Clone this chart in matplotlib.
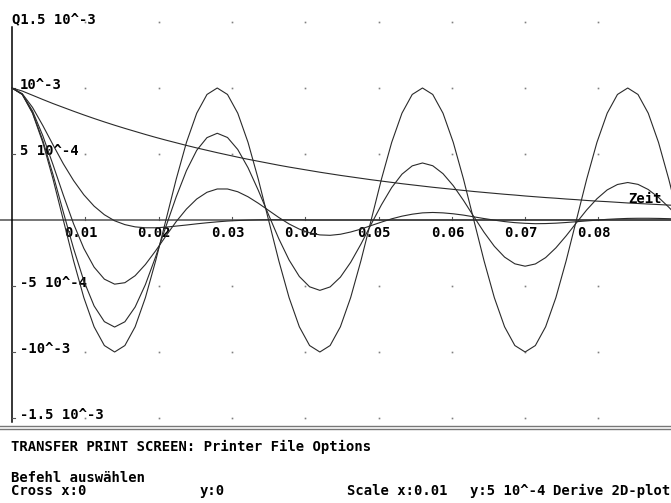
import matplotlib
matplotlib.use("Agg")
import matplotlib.pyplot as plt

W, H = 671, 503

# Zeit in s, Ladung Q in Einheiten von 10^-3
zeit = [0.0, 0.0014, 0.0028, 0.0042, 0.0056, 0.007, 0.0084, 0.0098, 0.0112, 0.0126,
        0.014, 0.0154, 0.0168, 0.0182, 0.0196, 0.021, 0.0224, 0.0238, 0.0252, 0.0266,
        0.028, 0.0294, 0.0308, 0.0322, 0.0336, 0.035, 0.0364, 0.0378, 0.0392, 0.0406,
        0.042, 0.0434, 0.0448, 0.0462, 0.0476, 0.049, 0.0504, 0.0518, 0.0532, 0.0546,
        0.056, 0.0574, 0.0588, 0.0602, 0.0616, 0.063, 0.0644, 0.0658, 0.0672, 0.0686,
        0.07, 0.0714, 0.0728, 0.0742, 0.0756, 0.077, 0.0784, 0.0798, 0.0812, 0.0826,
        0.084, 0.0854, 0.0868, 0.0882, 0.0896, 0.091]

q_ungedaempft = [1.000, 0.951, 0.809, 0.588, 0.309, 0.000, -0.309, -0.588, -0.809, -0.951,
                 -1.000, -0.951, -0.809, -0.588, -0.309, 0.000, 0.309, 0.588, 0.809, 0.951,
                 1.000, 0.951, 0.809, 0.588, 0.309, 0.000, -0.309, -0.588, -0.809, -0.951,
                 -1.000, -0.951, -0.809, -0.588, -0.309, 0.000, 0.309, 0.588, 0.809, 0.951,
                 1.000, 0.951, 0.809, 0.588, 0.309, 0.000, -0.309, -0.588, -0.809, -0.951,
                 -1.000, -0.951, -0.809, -0.588, -0.309, 0.000, 0.309, 0.588, 0.809, 0.951,
                 1.000, 0.951, 0.809, 0.588, 0.309, 0.000]

q_schwach = [1.000, 0.952, 0.813, 0.603, 0.343, 0.060, -0.216, -0.461, -0.651, -0.770,
             -0.811, -0.771, -0.659, -0.489, -0.278, -0.049, 0.175, 0.374, 0.528, 0.624,
             0.657, 0.625, 0.534, 0.396, 0.225, 0.040, -0.142, -0.303, -0.428, -0.506,
             -0.533, -0.507, -0.433, -0.321, -0.183, -0.032, 0.115, 0.246, 0.347, 0.410,
             0.432, 0.411, 0.351, 0.260, 0.148, 0.026, -0.093, -0.199, -0.281, -0.332,
             -0.350, -0.333, -0.285, -0.211, -0.120, -0.021, 0.076, 0.161, 0.228, 0.269,
             0.284, 0.270, 0.231, 0.171, 0.097, 0.017]

q_mittel = [1.000, 0.953, 0.826, 0.639, 0.418, 0.189, -0.029, -0.215, -0.357, -0.448,
            -0.486, -0.475, -0.422, -0.337, -0.233, -0.121, -0.012, 0.083, 0.159, 0.210,
            0.235, 0.235, 0.214, 0.176, 0.127, 0.073, 0.019, -0.030, -0.069, -0.097,
            -0.113, -0.116, -0.108, -0.091, -0.069, -0.042, -0.016, 0.009, 0.029, 0.044,
            0.054, 0.057, 0.054, 0.047, 0.037, 0.024, 0.011, -0.001, -0.012, -0.020,
            -0.025, -0.028, -0.027, -0.024, -0.019, -0.013, -0.007, -0.001, 0.005, 0.009,
            0.012, 0.013, 0.013, 0.012, 0.010, 0.007]

q_stark = [1.000, 0.957, 0.853, 0.716, 0.569, 0.426, 0.299, 0.191, 0.105, 0.040,
           -0.006, -0.035, -0.052, -0.059, -0.059, -0.054, -0.046, -0.038, -0.029, -0.021,
           -0.014, -0.008, -0.004, -0.001, 0.001, 0.002, 0.002, 0.001, 0.001, 0.000,
           0.000, 0.000, 0.000, 0.000, 0.000, 0.000, 0.000, 0.000, 0.000, 0.000,
           0.000, 0.000, 0.000, 0.000, 0.000, 0.000, 0.000, 0.000, 0.000, 0.000,
           0.000, 0.000, 0.000, 0.000, 0.000, 0.000, 0.000, 0.000, 0.000, 0.000,
           0.000, 0.000, 0.000, 0.000, 0.000, 0.000]

q_kriech = [1.000, 0.977, 0.945, 0.913, 0.882, 0.853, 0.824, 0.796, 0.769, 0.743,
            0.718, 0.694, 0.671, 0.648, 0.626, 0.605, 0.585, 0.565, 0.546, 0.528,
            0.510, 0.493, 0.476, 0.460, 0.445, 0.430, 0.415, 0.401, 0.388, 0.375,
            0.362, 0.350, 0.338, 0.327, 0.316, 0.305, 0.295, 0.285, 0.275, 0.266,
            0.257, 0.248, 0.240, 0.232, 0.224, 0.216, 0.209, 0.202, 0.195, 0.189,
            0.182, 0.176, 0.170, 0.165, 0.159, 0.154, 0.148, 0.143, 0.139, 0.134,
            0.129, 0.125, 0.121, 0.117, 0.113, 0.109]

x_ticks = [0.01, 0.02, 0.03, 0.04, 0.05, 0.06, 0.07, 0.08]
x_labels = ["0.01", "0.02", "0.03", "0.04", "0.05", "0.06", "0.07", "0.08"]
y_ticks = [1.5, 1.0, 0.5, -0.5, -1.0, -1.5]
y_labels = ["Q1.5 10^-3", "10^-3", "5 10^-4", "-5 10^-4", "-10^-3", "-1.5 10^-3"]

# pixel scale of the Derive window
px_x = 0.01 / 73.3
px_y = 1.0 / 132
x0_px, y0_px, bottom_px = 12, 220, 423

FONT = "DejaVu Sans Mono"
FS = 10

fig = plt.figure(figsize=(W / 100, H / 100), dpi=100)
fig.patch.set_facecolor("white")
ax = fig.add_axes([0, (H - bottom_px) / H, 1, bottom_px / H])
ax.set_xlim(-x0_px * px_x, (W - x0_px) * px_x)
ax.set_ylim(-(bottom_px - y0_px) * px_y, y0_px * px_y)
ax.axis("off")

# grid dots
for gx in x_ticks:
    for gy in y_ticks:
        ax.plot(gx, gy, "s", ms=1.2, color="#808080", mec="none", zorder=1)

# axes
ax.axhline(0, color="#6a6a6a", lw=1.3, zorder=2)
ax.plot([0, 0], [(y0_px - 27) * px_y, -(bottom_px - 1 - y0_px) * px_y],
        color="black", lw=1.1, zorder=2)
for gx in x_ticks:
    ax.plot([gx, gx], [0, 3 * px_y], color="#555555", lw=0.8, zorder=2)
for gy in y_ticks[1:]:
    ax.plot([0, 3 * px_x], [gy, gy], color="#555555", lw=0.8, zorder=2)

# labels
for gx, lab in zip(x_ticks, x_labels):
    ax.text(gx - 21 * px_x, -17 * px_y, lab, ha="left", va="baseline",
            family=FONT, weight="bold", fontsize=FS, zorder=1)
for gy, lab in zip(y_ticks, y_labels):
    xx = 0 if lab.startswith("Q") else 8 * px_x
    ax.text(xx, gy - 1 * px_y, lab, ha="left", va="baseline",
            family=FONT, weight="bold", fontsize=FS, zorder=1)
ax.text((628 - x0_px) * px_x, (y0_px - 203) * px_y, "Zeit", ha="left", va="baseline",
        family=FONT, weight="bold", fontsize=FS, zorder=5)

# curves
for q in [q_ungedaempft, q_schwach, q_mittel, q_stark, q_kriech]:
    ax.plot(zeit, q, color="#2a2a2a", lw=0.8, zorder=3)

# status area
fig.add_artist(plt.Line2D([0, 1], [1 - 425.5 / H, 1 - 425.5 / H], color="#777777", lw=1.0))
fig.add_artist(plt.Line2D([0, 1], [1 - 428.5 / H, 1 - 428.5 / H], color="#777777", lw=1.0))


def status(x, y, s):
    fig.text(x / W, 1 - y / H, s, ha="left", va="baseline",
             family=FONT, weight="bold", fontsize=FS)


status(11, 451, "TRANSFER PRINT SCREEN: Printer File Options")
status(11, 482, "Befehl auswählen")
status(11, 495, "Cross x:0")
status(200, 495, "y:0")
status(347, 495, "Scale x:0.01")
status(470, 495, "y:5 10^-4")
status(553, 495, "Derive 2D-plot")

fig.savefig("out.png", dpi=100)
